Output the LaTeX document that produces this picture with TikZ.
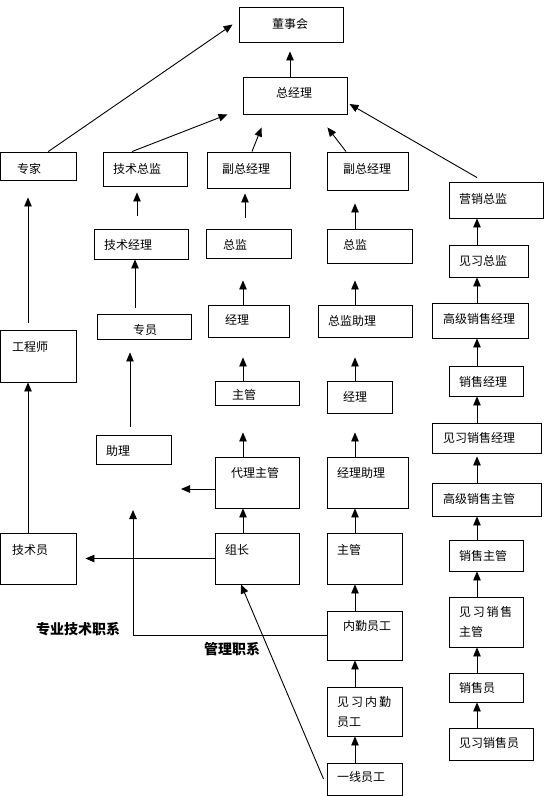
\documentclass[tikz,border=0pt]{standalone}
\usepackage{fontspec}
\setmainfont{Noto Sans CJK SC}
\usetikzlibrary{arrows.meta,fit}
\tikzset{
 box/.style={draw=black, line width=0.9pt, inner sep=0pt, rectangle},
 txt/.style={inner sep=0pt, anchor=west, align=left, font=\fontsize{12}{20}\selectfont},
 lbl/.style={inner sep=0pt, anchor=west, font=\fontsize{14}{16}\selectfont\bfseries},
 arr/.style={draw=black, line width=0.9pt, -{Triangle[length=9pt,width=7.5pt]}},
}
\begin{document}
\begin{tikzpicture}[x=1pt,y=-1pt]
\useasboundingbox (0,0) rectangle (555,796);
% boxes
\node[box, fit={(239,7) (343,42)}] (dsh) {};
\node[box, fit={(243,77) (347,114)}] (zjl) {};
\node[box, fit={(0.5,152) (76,180)}] (zhuanjia) {};
\node[box, fit={(103,152) (187,186)}] (jszj) {};
\node[box, fit={(207,152) (290,188)}] (fzjl1) {};
\node[box, fit={(327,152) (408,190)}] (fzjl2) {};
\node[box, fit={(449,182) (543,218)}] (yxzj) {};
\node[box, fit={(94,229) (188,259)}] (jsjl) {};
\node[box, fit={(206,229) (291,258)}] (zongjian1) {};
\node[box, fit={(327,229) (412,263)}] (zongjian2) {};
\node[box, fit={(449,245) (528,277)}] (jxzj) {};
\node[box, fit={(97,314) (191,339)}] (zy) {};
\node[box, fit={(208,305) (289,337)}] (jingli1) {};
\node[box, fit={(318,305) (412,337)}] (zjzl) {};
\node[box, fit={(432,303) (528,338)}] (gjxsjl) {};
\node[box, fit={(0.5,330) (76,382)}] (gcs) {};
\node[box, fit={(215,381) (299,405)}] (zhuguan1) {};
\node[box, fit={(327,381) (392,413)}] (jingli2) {};
\node[box, fit={(449,366) (523,396)}] (xsjl) {};
\node[box, fit={(96,435) (171,464)}] (zhuli) {};
\node[box, fit={(215,457) (299,508)}] (dlzg) {};
\node[box, fit={(327,457) (408,508)}] (jlzl) {};
\node[box, fit={(432,423) (541,453)}] (jxxsjl) {};
\node[box, fit={(432,483) (541,516)}] (gjxszg) {};
\node[box, fit={(0.5,533) (76,584)}] (jsy) {};
\node[box, fit={(215,533) (299,584)}] (zuzhang) {};
\node[box, fit={(327,533) (402,584)}] (zhuguan2) {};
\node[box, fit={(449,540) (523,571)}] (xszg) {};
\node[box, fit={(449,597) (523,647)}] (jxxszg) {};
\node[box, fit={(327,611) (402,660)}] (nqyg) {};
\node[box, fit={(449,673) (523,702)}] (xsy) {};
\node[box, fit={(327,687) (402,736)}] (jxnqyg) {};
\node[box, fit={(449,728) (533,760)}] (jxxsy) {};
\node[box, fit={(327,763) (402,795)}] (yxyg) {};
% texts
\node[txt] (dsh-t) at (272,24) {董事会};
\node[txt] (zjl-t) at (276,93) {总经理};
\node[txt] (zhuanjia-t) at (17,169) {专家};
\node[txt] (jszj-t) at (113,169) {技术总监};
\node[txt] (fzjl1-t) at (222,169) {副总经理};
\node[txt] (fzjl2-t) at (343,169) {副总经理};
\node[txt] (yxzj-t) at (459,199) {营销总监};
\node[txt] (jsjl-t) at (104,245) {技术经理};
\node[txt] (zongjian1-t) at (223,245) {总监};
\node[txt] (zongjian2-t) at (343,245) {总监};
\node[txt] (jxzj-t) at (459,261) {见习总监};
\node[txt] (zy-t) at (133,330) {专员};
\node[txt] (jingli1-t) at (225,320) {经理};
\node[txt] (zjzl-t) at (328,321) {总监助理};
\node[txt] (gjxsjl-t) at (443,319) {高级销售经理};
\node[txt] (gcs-t) at (12,347) {工程师};
\node[txt] (zhuguan1-t) at (232,395) {主管};
\node[txt] (jingli2-t) at (343,397) {经理};
\node[txt] (xsjl-t) at (459,382) {销售经理};
\node[txt] (zhuli-t) at (106,451) {助理};
\node[txt] (dlzg-t) at (231,473) {代理主管};
\node[txt] (jlzl-t) at (337,473) {经理助理};
\node[txt] (jxxsjl-t) at (443,438) {见习销售经理};
\node[txt] (gjxszg-t) at (443,499) {高级销售主管};
\node[txt] (jsy-t) at (12,550) {技术员};
\node[txt] (zuzhang-t) at (225,550) {组长};
\node[txt] (zhuguan2-t) at (337,550) {主管};
\node[txt] (xszg-t) at (459,556) {销售主管};
\node[txt] (jxxszg-t) at (459,622) {见\hspace{1.7pt}习\hspace{1.7pt}销\hspace{1.7pt}售\\主管};
\node[txt] (nqyg-t) at (343,626) {内勤员工};
\node[txt] (xsy-t) at (459,688) {销售员};
\node[txt] (jxnqyg-t) at (337,712) {见\hspace{2pt}习\hspace{2pt}内\hspace{2pt}勤\\员工};
\node[txt] (jxxsy-t) at (459,743) {见习销售员};
\node[txt] (yxyg-t) at (337,777) {一线员工};
\node[lbl] (lbl-js) at (36,629) {专业技术职系};
\node[lbl] (lbl-gl) at (204,649) {管理职系};
% column coordinates
\coordinate (c28) at (28,0);
\coordinate (c130) at (130,0);
\coordinate (c135) at (135,0);
\coordinate (c137) at (137,0);
\coordinate (c243) at (243,0);
\coordinate (c245) at (245,0);
\coordinate (c290) at (290,0);
\coordinate (c355) at (355,0);
\coordinate (c477) at (477,0);
% vertical connectors
\draw[arr, shorten >=9pt] (zjl.north -| c290) -- (dsh.south -| c290);
\draw[arr, shorten <=13pt, shorten >=6pt] (jsjl.north -| c137) -- (jszj.south -| c137);
\draw[arr, shorten <=11pt, shorten >=5pt] (zongjian1.north -| c245) -- (fzjl1.south -| c245);
\draw[arr, shorten >=13pt] (zongjian2.north -| c355) -- (fzjl2.south -| c355);
\draw[arr, shorten >=17pt] (zjzl.north -| c355) -- (zongjian2.south -| c355);
\draw[arr, shorten >=20pt] (jingli2.north -| c355) -- (zjzl.south -| c355);
\draw[arr] (jxzj.north -| c477) -- (yxzj.south -| c477);
\draw[arr] (gjxsjl.north -| c477) -- (jxzj.south -| c477);
\draw[arr] (xsjl.north -| c477) -- (gjxsjl.south -| c477);
\draw[arr, shorten <=6pt] (zy.north -| c135) -- (jsjl.south -| c135);
\draw[arr, shorten >=22pt] (jingli1.north -| c243) -- (zongjian1.south -| c243);
\draw[arr, shorten <=7pt, shorten >=17pt] (gcs.north -| c28) -- (zhuanjia.south -| c28);
\draw[arr, shorten >=20pt] (zhuguan1.north -| c243) -- (jingli1.south -| c243);
\draw[arr, shorten <=8pt, shorten >=13pt] (zhuli.north -| c130) -- (zy.south -| c130);
\draw[arr, shorten >=27pt] (dlzg.north -| c243) -- (zhuguan1.south -| c243);
\draw[arr, shorten >=19pt] (jlzl.north -| c355) -- (jingli2.south -| c355);
\draw[arr] (jxxsjl.north -| c477) -- (xsjl.south -| c477);
\draw[arr] (jsy.north -| c28) -- (gcs.south -| c28);
\draw[arr] (zuzhang.north -| c243) -- (dlzg.south -| c243);
\draw[arr] (zhuguan2.north -| c355) -- (jlzl.south -| c355);
\draw[arr, shorten >=3pt] (gjxszg.north -| c477) -- (jxxsjl.south -| c477);
\draw[arr] (xszg.north -| c477) -- (gjxszg.south -| c477);
\draw[arr] (jxxszg.north -| c477) -- (xszg.south -| c477);
\draw[arr] (nqyg.north -| c355) -- (zhuguan2.south -| c355);
\draw[arr] (jxnqyg.north -| c355) -- (nqyg.south -| c355);
\draw[arr] (yxyg.north -| c355) -- (jxnqyg.south -| c355);
\draw[arr] (xsy.north -| c477) -- (jxxszg.south -| c477);
\draw[arr] (jxxsy.north -| c477) -- (xsy.south -| c477);
% diagonal connectors
\draw[arr] ([xshift=10pt]zhuanjia.north) -- ([xshift=-6pt]dsh.west);
\draw[arr] ([xshift=-13pt]jszj.north) -- ([xshift=-15pt]zjl.south west);
\draw[arr] ([xshift=3.5pt]fzjl1.north) -- ([xshift=19pt,yshift=-13pt]zjl.south west);
\draw[arr] ([xshift=-21.5pt]fzjl2.north) -- ([xshift=-20pt,yshift=-13pt]zjl.south east);
\draw[arr] ([xshift=-19pt,yshift=4pt]yxzj.north) -- ([xshift=2pt,yshift=-8.5pt]zjl.east);
\draw[arr] ([xshift=-3pt]yxyg.west) -- ([xshift=-16pt]zuzhang.south);
% horizontal connectors
\coordinate (dlzgend) at (181,489);
\draw[arr] (dlzg.west |- dlzgend) -- (dlzgend);
\draw[arr, shorten >=9pt] (zuzhang.west) -- (jsy.east);
\coordinate (gleend) at (133,510);
\draw[arr] (nqyg.west) -| (gleend);
\end{tikzpicture}
\end{document}
